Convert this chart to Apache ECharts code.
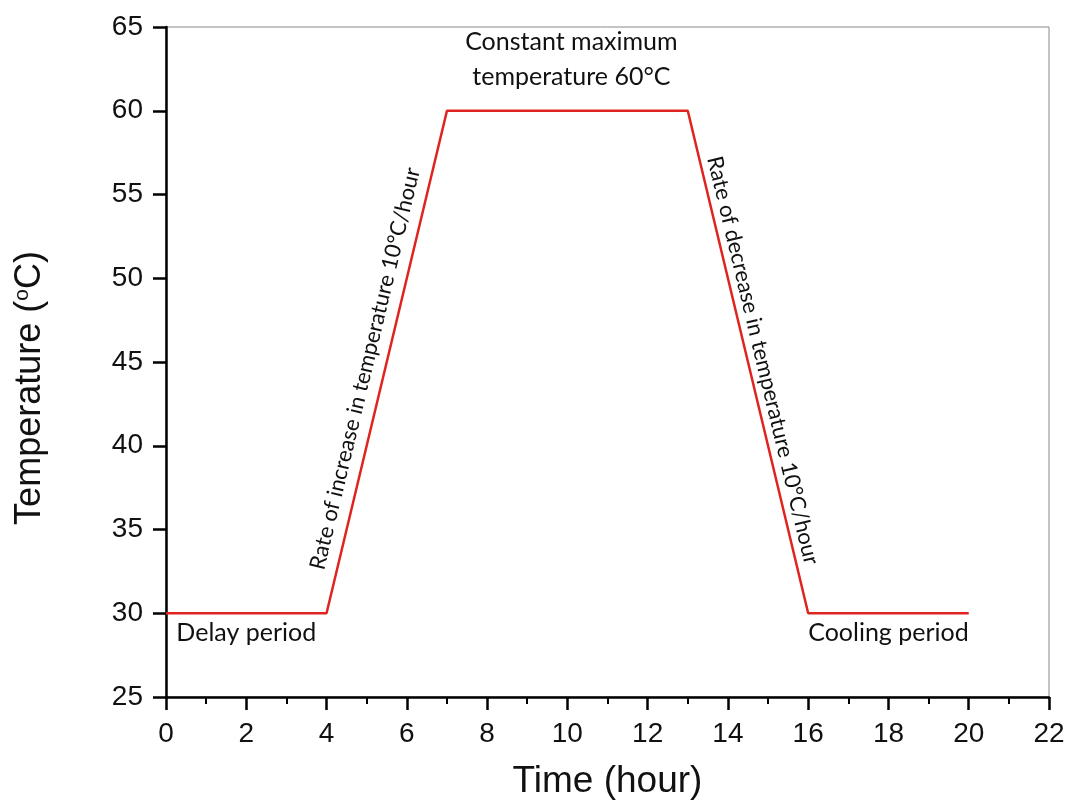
<!DOCTYPE html>
<html>
<head>
<meta charset="utf-8">
<script src="https://cdn.jsdelivr.net/npm/echarts@6/dist/echarts.min.js"></script>
<style>
  html, body { margin: 0; padding: 0; background: #fff; }
  #chart { width: 1070px; height: 800px; }
</style>
</head>
<body>
<div id="chart"></div>
<script>
// Temperature programme: time (hour) vs temperature (°C)
const timeHours = [0, 4, 7, 13, 16, 20];
const temperature = [30, 30, 60, 60, 30, 30];

const xTicks = { min: 0, max: 22, step: 2 };
const yTicks = { min: 25, max: 65, step: 5 };

// Annotation texts with anchor positions in data coordinates
const notePeak = ['Constant maximum', 'temperature 60°C'];
const notePeakAt = [[10.1, 64.1], [10.1, 62.0]];
const noteDelay = 'Delay period';
const noteDelayAt = [2.0, 28.8];
const noteCooling = 'Cooling period';
const noteCoolingAt = [18.0, 28.8];
const noteRise = 'Rate of increase in temperature 10°C/hour';
const noteRiseAt = [4.96, 44.6];
const noteFall = 'Rate of decrease in temperature 10°C/hour';
const noteFallAt = [14.87, 45.1];

const lineColor = '#e0231f';
const noteFont = 'Lato, "Open Sans", sans-serif';
const axisFont = '"Liberation Sans", Arial, sans-serif';

const chart = echarts.init(document.getElementById('chart'), null, { renderer: 'canvas' });

const option = {
  animation: false,
  backgroundColor: '#fff',
  grid: {
    left: 166, right: 21, top: 27, bottom: 103,
    outerBoundsMode: 'none',
    containLabel: false,
    show: true, borderColor: '#8a8a8a', borderWidth: 1, backgroundColor: 'transparent'
  },
  xAxis: {
    type: 'value',
    min: xTicks.min, max: xTicks.max, interval: xTicks.step,
    name: 'Time (hour)',
    nameLocation: 'middle',
    nameGap: 66,
    nameTextStyle: { fontFamily: axisFont, fontSize: 37, color: '#111' },
    axisLine: { show: true, onZero: false, lineStyle: { color: '#000', width: 2.5 } },
    axisTick: { show: true, inside: false, length: 13, lineStyle: { color: '#000', width: 2.5 } },
    minorTick: { show: true, splitNumber: 2, length: 7, lineStyle: { color: '#000', width: 2 } },
    axisLabel: { fontFamily: axisFont, fontSize: 28, color: '#111', margin: 23 },
    splitLine: { show: false }
  },
  yAxis: {
    type: 'value',
    min: yTicks.min, max: yTicks.max, interval: yTicks.step,
    axisLine: { show: true, onZero: false, lineStyle: { color: '#000', width: 2.5 } },
    axisTick: { show: true, inside: false, length: 13, lineStyle: { color: '#000', width: 2.5 } },
    axisLabel: { fontFamily: axisFont, fontSize: 28, color: '#111', margin: 23 },
    splitLine: { show: false }
  },
  series: [{
    type: 'line',
    data: timeHours.map((t, i) => [t, temperature[i]]),
    symbol: 'none',
    lineStyle: { color: lineColor, width: 2.5 },
    z: 5
  }]
};
chart.setOption(option);

// Place annotations using the chart's own coordinate conversion
const px = (p) => chart.convertToPixel({ gridIndex: 0 }, p);
const p0 = px([timeHours[1], temperature[1]]);
const p1 = px([timeHours[2], temperature[2]]);
const riseAngle = Math.atan2(p0[1] - p1[1], p1[0] - p0[0]);
const q0 = px([timeHours[3], temperature[3]]);
const q1 = px([timeHours[4], temperature[4]]);
const fallAngle = Math.atan2(q0[1] - q1[1], q1[0] - q0[0]);

function note(text, at, size, opts) {
  const p = px(at);
  return Object.assign({
    type: 'text',
    x: p[0], y: p[1],
    z: 10,
    style: {
      text: text,
      fill: '#111',
      font: size + 'px ' + noteFont,
      align: 'center',
      verticalAlign: 'middle'
    }
  }, opts || {});
}

const yTitleCenter = [30, 388];

chart.setOption({
  graphic: [
    note(notePeak[0], notePeakAt[0], 25),
    note(notePeak[1], notePeakAt[1], 25),
    note(noteDelay, noteDelayAt, 25),
    note(noteCooling, noteCoolingAt, 25),
    note(noteRise, noteRiseAt, 22, { rotation: riseAngle }),
    note(noteFall, noteFallAt, 22, { rotation: fallAngle }),
    {
      type: 'text',
      x: yTitleCenter[0], y: yTitleCenter[1],
      rotation: Math.PI / 2,
      style: {
        text: 'Temperature ({sup|o}C)',
        fill: '#111',
        font: '36px ' + axisFont,
        align: 'center',
        verticalAlign: 'middle',
        rich: {
          sup: { fontSize: 21, fontFamily: axisFont, verticalAlign: 'top', padding: [0, 0, 15, 0], fill: '#111' }
        }
      }
    }
  ]
});
</script>
</body>
</html>
